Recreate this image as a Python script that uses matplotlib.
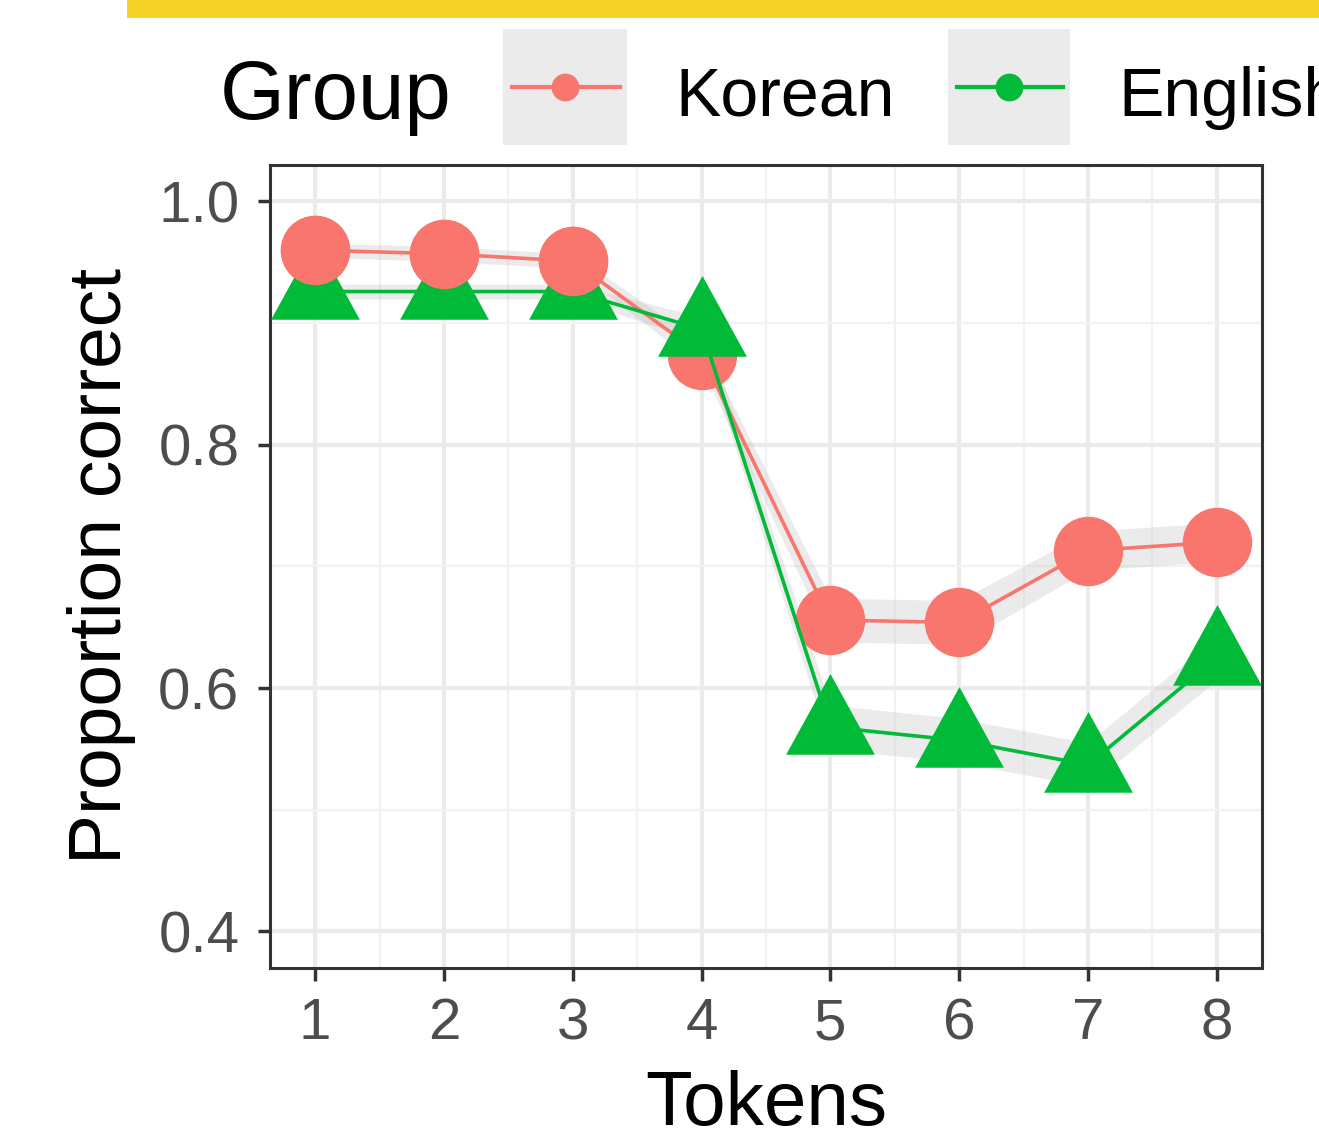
import numpy as np
import matplotlib
matplotlib.use("Agg")
import matplotlib.pyplot as plt
from matplotlib.path import Path
from matplotlib.patches import Rectangle
from matplotlib.lines import Line2D

plt.rcParams['font.family'] = ['Liberation Sans', 'DejaVu Sans']

# data
tokens = [1, 2, 3, 4, 5, 6, 7, 8]
korean = [0.960, 0.957, 0.951, 0.874, 0.656, 0.654, 0.713, 0.720]
english = [0.926, 0.926, 0.926, 0.895, 0.568, 0.557, 0.537, 0.625]
korean_se = [0.006, 0.006, 0.006, 0.010, 0.018, 0.018, 0.016, 0.016]
english_se = [0.006, 0.006, 0.006, 0.010, 0.018, 0.018, 0.018, 0.018]
groups = ["Korean", "English"]
colors = ["#F8766D", "#00BA38"]
yticks = [0.4, 0.6, 0.8, 1.0]

W, H = 1319, 1131
fig = plt.figure(figsize=(W / 100, H / 100), dpi=100)


def fx(px):
    return px / W


def fy(py):
    return 1 - py / H


ax = fig.add_axes([fx(270), fy(968), fx(1262) - fx(270), fy(165) - fy(968)])

# ggplot-like triangle, centred on its centroid
tri = Path([(0, 53), (-44, -27), (44, -27), (0, 53)],
           [Path.MOVETO, Path.LINETO, Path.LINETO, Path.CLOSEPOLY])

k = np.array(korean)
e = np.array(english)
ax.fill_between(tokens, e - np.array(english_se), e + np.array(english_se),
                color="#BEBEBE", alpha=0.3, lw=0, zorder=2)
ax.fill_between(tokens, k - np.array(korean_se), k + np.array(korean_se),
                color="#BEBEBE", alpha=0.3, lw=0, zorder=2)
ax.plot(tokens, korean, color=colors[0], lw=2.6, zorder=3)
ax.plot(tokens, korean, ls="none", marker="o", ms=50, color=colors[0], mew=0, zorder=4)
ax.plot(tokens, english, color=colors[1], lw=2.6, zorder=5)
ax.plot(tokens, english, ls="none", marker=tri, ms=77, color=colors[1], mew=0, zorder=6)
# in the reference the first three circles sit on top of the triangles
ax.plot(tokens[:3], korean[:3], ls="none", marker="o", ms=50, color=colors[0], mew=0, zorder=7)

ax.set_xlim(0.65, 8.35)
ax.set_ylim(0.37, 1.03)
ax.set_xticks(tokens)
ax.set_xticks(np.arange(1.5, 8, 1), minor=True)
ax.set_yticks(yticks)
ax.set_yticks([0.5, 0.7, 0.9], minor=True)
ax.set_yticklabels(["0.4", "0.6", "0.8", "1.0"])
ax.grid(which="major", color="#EBEBEB", lw=3, zorder=0)
ax.grid(which="minor", color="#F2F2F2", lw=1.6, zorder=0)
ax.set_axisbelow(True)
ax.tick_params(which="major", labelsize=42, labelcolor="#4D4D4D", color="#333333",
               length=9, width=2.5)
ax.tick_params(axis="x", which="major", pad=12)
ax.tick_params(axis="y", which="major", pad=13)
ax.tick_params(which="minor", length=0)
for s in ax.spines.values():
    s.set_color("#333333")
    s.set_linewidth(2.2)

ax.set_ylabel("Proportion correct", fontsize=54, labelpad=16)
fig.text(fx(766), fy(1070), "Tokens", fontsize=55, ha="center", va="top")

# yellow strip at the top
fig.add_artist(Rectangle((fx(127), fy(18)), 1 - fx(127), fy(0) - fy(18),
                         transform=fig.transFigure, color="#F5D327", lw=0))

# legend drawn by hand in figure coords
fig.text(fx(220), fy(97), "Group", fontsize=60, va="center", ha="left")
for x0, x1, name, c in [(503, 627, groups[0], colors[0]), (948, 1070, groups[1], colors[1])]:
    fig.add_artist(Rectangle((fx(x0), fy(145)), fx(x1) - fx(x0), fy(29) - fy(145),
                             transform=fig.transFigure, color="#EBEBEB", lw=0))
    fig.add_artist(Line2D([fx(x0 + 9), fx(x1 - 7)], [fy(87), fy(87)], transform=fig.transFigure,
                          color=c, lw=3))
    fig.add_artist(Line2D([fx((x0 + x1) / 2)], [fy(87)], transform=fig.transFigure,
                          color=c, marker="o", ms=20, mew=0))
    fig.text(fx(x1 + 48), fy(98), name, fontsize=49, va="center", ha="left")

fig.savefig("out.png", dpi=100)
